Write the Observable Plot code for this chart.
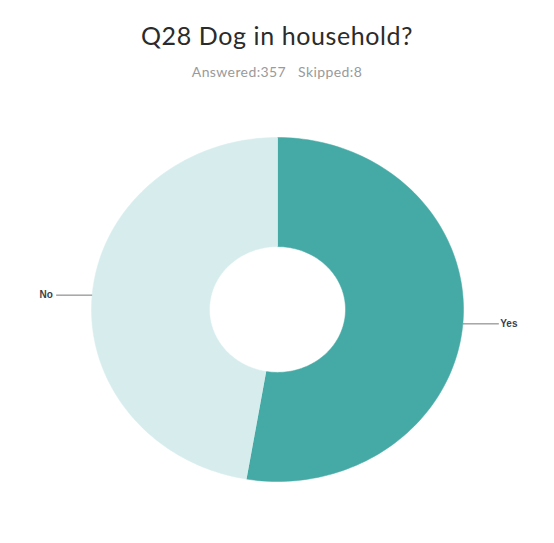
<!DOCTYPE html>
<html>
<head>
<meta charset="utf-8">
<script src="https://cdn.jsdelivr.net/npm/d3@7"></script>
<script src="https://cdn.jsdelivr.net/npm/@observablehq/plot@0.6"></script>
<style>
  html, body { margin: 0; padding: 0; background: #fff; }
  #wrap { width: 554px; height: 543px; position: relative; }
  #title { position: absolute; top: 20px; left: 0; width: 554px; text-align: center;
    font-family: Lato, "Noto Sans", sans-serif; font-size: 25px; color: #2b2b2b; letter-spacing: 0.6px; }
  #sub { position: absolute; top: 63px; left: 0; width: 554px; text-align: center;
    font-family: Lato, "Noto Sans", sans-serif; font-size: 14px; color: #9a9a9a; letter-spacing: 0.4px; word-spacing: 2px; }
  #chart { position: absolute; top: 90px; left: 0; }
</style>
</head>
<body>
<div id="wrap">
  <div id="title">Q28 Dog in household?</div>
  <div id="sub">Answered:357&nbsp;&nbsp;Skipped:8</div>
  <div id="chart"></div>
</div>
<script>
const categories = ["Yes", "No"];
const counts = [188, 169];
const colors = ["#45aaa5", "#d7eded"];

const R = 186, r0 = 68;
const W = 554, H = 453, cy = 219; // center in svg px
const k = 186 / 172; // vertical squash of the original picture

const pie = d3.pie().sort(null).value(d => d.value)(categories.map((c, i) => ({name: c, value: counts[i], color: colors[i]})));

const ringPts = [];
pie.forEach(p => {
  const n = 120;
  for (let j = 0; j <= n; j++) {
    const a = p.startAngle + (p.endAngle - p.startAngle) * j / n;
    ringPts.push({name: p.data.name, x: R * Math.sin(a), y: R * Math.cos(a)});
  }
  for (let j = n; j >= 0; j--) {
    const a = p.startAngle + (p.endAngle - p.startAngle) * j / n;
    ringPts.push({name: p.data.name, x: r0 * Math.sin(a), y: r0 * Math.cos(a)});
  }
});

const labels = pie.map(p => {
  const a = (p.startAngle + p.endAngle) / 2;
  const side = Math.sin(a) >= 0 ? 1 : -1;
  const x0 = R * Math.sin(a), y0 = R * Math.cos(a);
  return {name: p.data.name, side, x0, y0, x1: x0 + side * 36, y1: y0};
});

const plot = Plot.plot({
  width: W, height: H,
  margin: 0,
  x: {domain: [-W / 2, W / 2], range: [0, W], axis: null},
  y: {domain: [-(H - cy) * k, cy * k], range: [H, 0], axis: null},
  color: {domain: categories, range: colors},
  marks: [
    Plot.line(ringPts, {x: "x", y: "y", z: "name", fill: "name", stroke: "name", strokeWidth: 0.5, curve: "linear"}),
    Plot.link(labels, {x1: "x0", y1: "y0", x2: "x1", y2: "y1", stroke: "#777", strokeWidth: 1}),
    Plot.text(labels, {x: d => d.x1 + d.side * 10, y: "y1", text: "name",
      textAnchor: d => d.side > 0 ? "start" : "end",
      fontSize: 10, fontWeight: "bold", fill: "#3a3f4a", fontFamily: "Arial, Liberation Sans, sans-serif"})
  ]
});
document.getElementById("chart").appendChild(plot);
</script>
</body>
</html>
